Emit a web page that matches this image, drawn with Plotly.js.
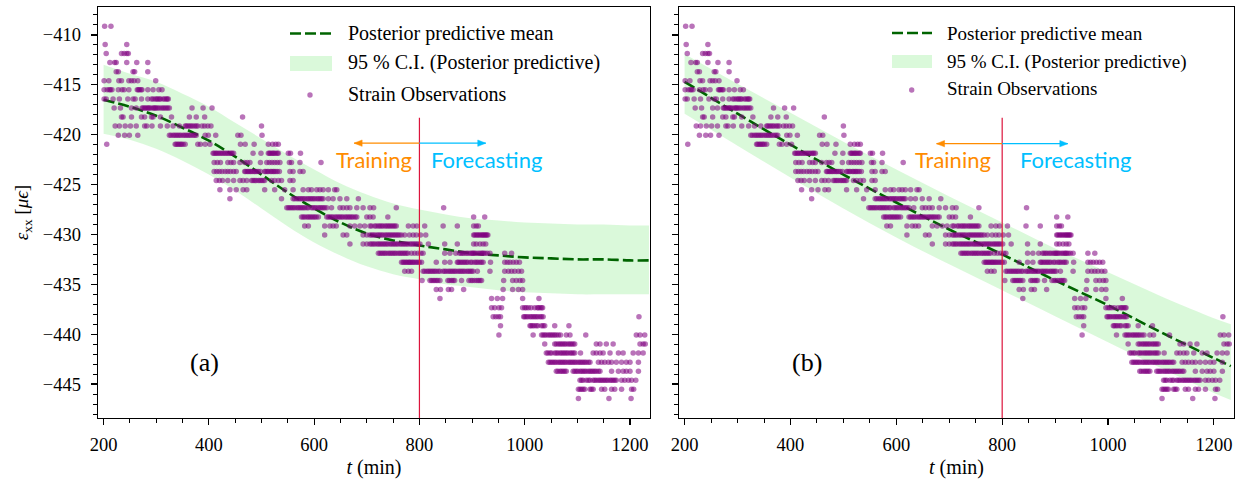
<!DOCTYPE html>
<html>
<head>
<meta charset="utf-8">
<script src="https://cdn.plot.ly/plotly-3.0.1.min.js"></script>
<style>html,body{margin:0;padding:0;background:#fff;}#chart{width:1245px;height:480px;}</style>
</head>
<body>
<div id="chart"></div>
<script>
// ---------------- data ----------------
// strain levels (µε) of the quantised observations
const obsLevels = [-409.13,-410.04,-410.95,-411.86,-412.77,-413.68,-414.59,-415.50,-416.41,-417.32,
  -418.23,-419.14,-420.05,-420.96,-421.87,-422.78,-423.69,-424.60,-425.51,-426.42,
  -427.33,-428.24,-429.15,-430.06,-430.97,-431.88,-432.79,-433.70,-434.61,-435.52,
  -436.43,-437.34,-438.25,-439.16,-440.07,-440.98,-441.89,-442.80,-443.71,-444.62,
  -445.53,-446.44];
// observation times (min) at each level
const obsTimesByLevel = [
  [202,214],
  [],
  [203,244],
  [205,234,239,244,247],
  [212,221,224,244,263,284],
  [224,228,256,259,284],
  [201,210,229,234,248,253,258,265,299],
  [201,207,211,213,216,228,235,239,248,264,266,268,271,273,284,294,305,311],
  [201,205,218,230,246,256,260,272,284,291,294,298,301,303,306,308,313,316,319,321,323],
  [220,232,253,262,273,275,278,280,283,285,287,290,294,296,298,300,303,306,310,313,316,319,322,325,368,389,406],
  [234,237,253,272,278,291,294,308,329,363,376,392,464],
  [222,230,241,251,262,278,282,292,308,321,332,344,355,357,360,363,366,369,373,376,379,387,392,398,404,500],
  [228,240,249,265,325,328,332,335,338,341,344,347,351,354,357,360,363,366,370,373,376,393,399,413,455,461,501],
  [206,336,338,341,343,346,348,351,355,379,384,393,402,460,469,486,513,521,527,532],
  [408,410,413,415,418,421,424,427,430,433,436,439,442,444,447,484,499,513,515,517,520,522,524,527,530,532,551,555,574],
  [410,416,422,436,442,447,459,468,473,478,498,510,515,520,525,530,535,553,557,573,613],
  [410,415,420,425,431,436,441,447,452,468,470,473,475,478,480,483,486,488,491,494,498,506,508,511,513,517,519,522,524,527,530,534,554,560,573,579],
  [414,420,426,436,447,459,465,472,481,484,487,490,494,497,500,503,506,519,525,532,538,554,560],
  [421,440,452,465,472,506,525,544,560,579,589,595,605,611,617,627,639,643],
  [440,538,560,563,567,570,573,576,579,582,586,589,592,595,598,601,605,608,611,614,617,627,636,649,662,684],
  [548,551,554,557,560,563,567,570,573,576,579,582,586,589,595,598,601,604,608,611,614,617,620,624,633,649,655,662,668,681,693,706,713,756,846],
  [576,579,582,586,589,592,595,598,601,604,608,624,627,630,633,636,640,643,646,649,652,655,659,662,665,668,671,674,678,681,700,706,712,740,903,924],
  [582,589,620,630,636,642,668,677,687,696,706,709,715,718,722,725,728,731,735,738,741,744,747,750,753,756,779,788,795,810,845,872,903,908,912],
  [620,655,662,693,700,706,709,712,715,719,722,725,728,731,735,738,741,744,747,750,753,756,759,762,766,772,781,788,794,802,812,903,905,908,910,913,915,918,920,922,924,926,928,930],
  [668,693,700,706,709,712,715,719,722,725,728,731,734,737,740,744,747,750,753,756,759,763,766,769,772,775,778,782,785,788,791,794,797,801,817,848,872,903,908,915,921,926],
  [722,725,728,731,734,737,741,744,747,750,753,756,760,763,766,769,772,775,778,785,791,797,803,807,848,858,869,876,879,882,885,889,892,896,899,901,903,905,908,912,915,918,920,922,925,929,934,962,975],
  [766,769,771,774,776,779,781,783,786,788,791,794,797,800,804,832,848,858,872,874,877,880,883,886,889,892,897,900,905,908,911,915,918,921,935,962,967,972,978,984,990],
  [772,779,785,807,810,814,817,820,823,826,829,832,836,839,845,848,851,855,858,861,864,867,870,874,877,880,883,886,890,893,896,899,902,910,934,962,969,975,981,988,994],
  [805,820,823,826,829,832,835,839,854,857,861,864,867,880,894,898,901,905,909,912,915,918,960,977,984,991,996],
  [832,840,855,861,884,959,977,988,996],
  [839,937,948,958,996,1027],
  [937,943,951,956,996,1000,1003,1007,1012,1019,1024,1026,1029,1032,1034],
  [940,945,950,954,998,1000,1003,1006,1010,1013,1016,1019,1022,1025,1029,1032,1035,1217],
  [954,1010,1012,1015,1018,1022,1025,1032,1035,1038,1057,1084],
  [951,1016,1032,1035,1038,1041,1045,1048,1051,1054,1057,1060,1064,1068,1079,1086,1116,1212,1219,1228],
  [1038,1057,1060,1064,1067,1070,1073,1076,1079,1083,1086,1089,1092,1095,1136,1143,1155,1168,1219,1225,1229],
  [1041,1044,1048,1051,1057,1060,1063,1067,1070,1073,1076,1079,1082,1086,1089,1092,1095,1106,1130,1136,1143,1149,1162,1178,1187,1206,1216,1225],
  [1045,1048,1051,1054,1057,1060,1064,1067,1070,1073,1076,1079,1083,1086,1089,1092,1095,1098,1102,1105,1108,1111,1114,1117,1121,1124,1140,1146,1152,1159,1165,1174,1184,1193,1200,1216],
  [1060,1063,1067,1070,1073,1076,1079,1092,1095,1098,1101,1105,1108,1111,1114,1117,1121,1124,1127,1130,1133,1136,1140,1143,1165,1178,1187,1193,1200,1216],
  [1105,1108,1111,1117,1121,1124,1130,1133,1136,1140,1143,1146,1149,1152,1155,1158,1162,1165,1168,1171,1174,1184,1190,1197,1203,1211],
  [1102,1105,1108,1111,1114,1124,1127,1130,1146,1152,1165,1171,1184,1203,1207],
  [1102,1160,1202]
];

// (a) posterior predictive
const timeA  = [200,250,300,350,400,450,500,550,600,650,700,750,800,850,900,950,1000,1050,1100,1150,1200,1236];
const meanA  = [-416.5,-417.2,-418.1,-419.3,-420.6,-422.2,-424.0,-425.8,-427.4,-428.8,-429.9,-430.6,-431.1,-431.5,-431.9,-432.1,-432.3,-432.4,-432.5,-432.5,-432.6,-432.6];
const upperA = [-413.0,-413.9,-414.7,-415.9,-417.2,-418.8,-420.4,-422.0,-423.5,-424.9,-426.0,-426.9,-427.5,-428.0,-428.4,-428.6,-428.8,-428.9,-429.0,-429.0,-429.1,-429.1];
const lowerA = [-419.9,-420.5,-421.4,-422.6,-424.0,-425.6,-427.4,-429.2,-430.8,-432.1,-433.2,-434.0,-434.5,-435.0,-435.3,-435.6,-435.8,-435.9,-436.0,-436.0,-436.0,-436.0];
// (b) posterior predictive
const timeB  = [200,300,400,500,600,700,800,900,1000,1100,1200,1232];
const meanB  = [-414.7,-417.9,-421.0,-424.0,-426.8,-429.5,-432.0,-434.6,-437.1,-439.8,-442.4,-443.2];
const upperB = [-411.9,-414.9,-417.8,-420.7,-423.5,-426.2,-428.8,-431.4,-433.8,-436.2,-438.4,-439.0];
const lowerB = [-417.9,-421.1,-424.3,-427.4,-430.3,-433.0,-435.6,-438.2,-440.8,-443.4,-445.9,-446.6];

const splitTime = 800;
const legendLabels = ['Posterior predictive mean','95 % C.I. (Posterior predictive)','Strain Observations'];

// ---------------- build ----------------
const obsT = [], obsY = [];
obsTimesByLevel.forEach((ts, i) => ts.forEach(t => { obsT.push(t); obsY.push(obsLevels[i]); }));

const GREEN = '#006400', BAND = 'rgba(144,238,144,0.33)', PURPLE = 'rgba(128,0,128,0.55)';
const SERIF = 'Liberation Serif';
const SANS = 'Lato';
const DASH = '11px,4px';

function panel(xa, ya, t, m, up, lo) {
  return [
    {x:t, y:lo, xaxis:xa, yaxis:ya, mode:'lines', line:{width:0, shape:'spline'}, hoverinfo:'skip', showlegend:false},
    {x:t, y:up, xaxis:xa, yaxis:ya, mode:'lines', line:{width:0, shape:'spline'}, fill:'tonexty', fillcolor:BAND, hoverinfo:'skip', showlegend:false},
    {x:t, y:m, xaxis:xa, yaxis:ya, mode:'lines', line:{color:GREEN, width:2.6, dash:DASH, shape:'spline'}, showlegend:false},
    {x:obsT, y:obsY, xaxis:xa, yaxis:ya, mode:'markers', marker:{size:5.5, color:PURPLE, line:{width:0}}, showlegend:false}
  ];
}
const data = panel('x','y',timeA,meanA,upperA,lowerA).concat(panel('x2','y2',timeB,meanB,upperB,lowerB));

const W=1245, H=480, L=98, R=11, T=7, B=62;
const pw = W-L-R, ph = H-T-B;
const PX = p => (p-L)/pw, PY = p => (H-B-p)/ph;

const tickfont = {family:SERIF, size:18.5, color:'#000'};
function xax(dom) {
  return {domain:dom, range:[189.4,1238], tick0:0, dtick:200, ticks:'outside', ticklen:6, tickwidth:1.2, tickcolor:'#000',
    showline:true, mirror:true, linecolor:'#000', linewidth:1.4, showgrid:false, zeroline:false, tickfont:tickfont,
    ticklabelstandoff:3,
    minor:{dtick:50, tick0:0, ticks:'outside', ticklen:3.5, tickwidth:1, tickcolor:'#000', showgrid:false},
    title:{text:'<i>t</i> (min)', font:{family:SERIF, size:20, color:'#000'}, standoff:6}};
}
function yax(anchor, labels) {
  return {anchor:anchor, range:[-448.4,-407.2], tick0:0, dtick:5, ticks:'outside', ticklen:6, tickwidth:1.2, tickcolor:'#000',
    showline:true, mirror:true, linecolor:'#000', linewidth:1.4, showgrid:false, zeroline:false, tickfont:tickfont,
    showticklabels:labels, ticklabelstandoff:6,
    minor:{dtick:1, tick0:0, ticks:'outside', ticklen:3.5, tickwidth:1, tickcolor:'#000', showgrid:false}};
}

const shapes = [], annotations = [];
// split line
[['x','y'],['x2','y2']].forEach(([xa,ya]) => {
  shapes.push({type:'line', xref:xa, yref:ya, x0:splitTime, x1:splitTime, y0:-448.4, y1:-418.3, line:{color:'#DC143C', width:1.2}});
});
// arrows (line + filled head) + labels
function arrow(xa, ya, tEnd, yv, color, dir) {
  shapes.push({type:'line', xref:xa, yref:ya, x0:splitTime, x1:tEnd, y0:yv, y1:yv, line:{color:color, width:1.3}});
  const p = dir < 0 ? 'M0,0 L8,3.2 L8,-3.2 Z' : 'M0,0 L-8,3.2 L-8,-3.2 Z';
  shapes.push({type:'path', xref:xa, yref:ya, xsizemode:'pixel', ysizemode:'pixel', xanchor:tEnd, yanchor:yv, path:p,
    fillcolor:color, line:{color:color, width:0.5}});
}
function phase(xa, ya, yArrow, yText, tTrainEnd, tForeEnd, tTrainText, tForeText) {
  arrow(xa, ya, tTrainEnd, yArrow, '#FF8C00', -1);
  arrow(xa, ya, tForeEnd, yArrow, '#00BFFF', 1);
  annotations.push({xref:xa, yref:ya, x:tTrainText, y:yText, text:'Training', showarrow:false, xanchor:'right', yanchor:'middle', font:{family:SANS, size:22, color:'#FF8C00'}});
  annotations.push({xref:xa, yref:ya, x:tForeText, y:yText, text:'Forecasting', showarrow:false, xanchor:'left', yanchor:'middle', font:{family:SANS, size:22, color:'#00BFFF'}});
}
phase('x','y',-420.85,-422.5,676,926,789,818);
phase('x2','y2',-420.9,-422.5,676,924,783,830);

// panel tags
annotations.push({xref:'x domain', yref:'y domain', x:0.193, y:0.136, xanchor:'center', yanchor:'middle', text:'(a)', showarrow:false, font:{family:SERIF, size:26, color:'#000'}});
annotations.push({xref:'x2 domain', yref:'y2 domain', x:0.231, y:0.136, xanchor:'center', yanchor:'middle', text:'(b)', showarrow:false, font:{family:SERIF, size:26, color:'#000'}});

// legends
function legend(x0, x1, yLine, yPatch0, yPatch1, dotX, dotY, xText, yTexts, fs) {
  shapes.push({type:'line', xref:'paper', yref:'paper', x0:PX(x0), x1:PX(x1), y0:PY(yLine), y1:PY(yLine), line:{color:GREEN, width:2.6, dash:DASH}});
  shapes.push({type:'rect', xref:'paper', yref:'paper', x0:PX(x0), x1:PX(x1), y0:PY(yPatch1), y1:PY(yPatch0), fillcolor:BAND, line:{width:0}});
  shapes.push({type:'circle', xref:'paper', yref:'paper', x0:PX(dotX-2.7), x1:PX(dotX+2.7), y0:PY(dotY+2.7), y1:PY(dotY-2.7), fillcolor:PURPLE, line:{width:0}});
  legendLabels.forEach((lab, i) => {
    annotations.push({xref:'paper', yref:'paper', x:PX(xText), y:PY(yTexts[i]), text:lab, showarrow:false, xanchor:'left', yanchor:'middle', font:{family:SERIF, size:fs, color:'#000'}});
  });
}
legend(290, 332, 33.5, 56, 71, 310, 95, 346, [33.5, 63, 94], 20);
legend(892, 932, 33, 55, 68, 911.7, 90, 945, [33, 62, 89], 19);

const layout = {
  width:W, height:H, margin:{l:L, r:R, t:T, b:B}, paper_bgcolor:'#fff', plot_bgcolor:'#fff', showlegend:false,
  font:{family:SERIF, size:18, color:'#000'},
  xaxis: Object.assign(xax([0, 552/pw]), {anchor:'y'}),
  xaxis2: Object.assign(xax([581/pw, 1]), {anchor:'y2'}),
  yaxis: Object.assign(yax('x', true), {title:{text:'<i>ε</i><sub>xx</sub> [<i>μϵ</i>]', font:{family:SERIF, size:19, color:'#000'}, standoff:9}}),
  yaxis2: Object.assign(yax('x2', false), {matches:'y'}),
  shapes:shapes, annotations:annotations
};

Plotly.newPlot('chart', data, layout, {staticPlot:true, displayModeBar:false}).then(() => {
  const tester = document.getElementById('js-plotly-tester');
  if (tester) tester.remove();
});
</script>
</body>
</html>
